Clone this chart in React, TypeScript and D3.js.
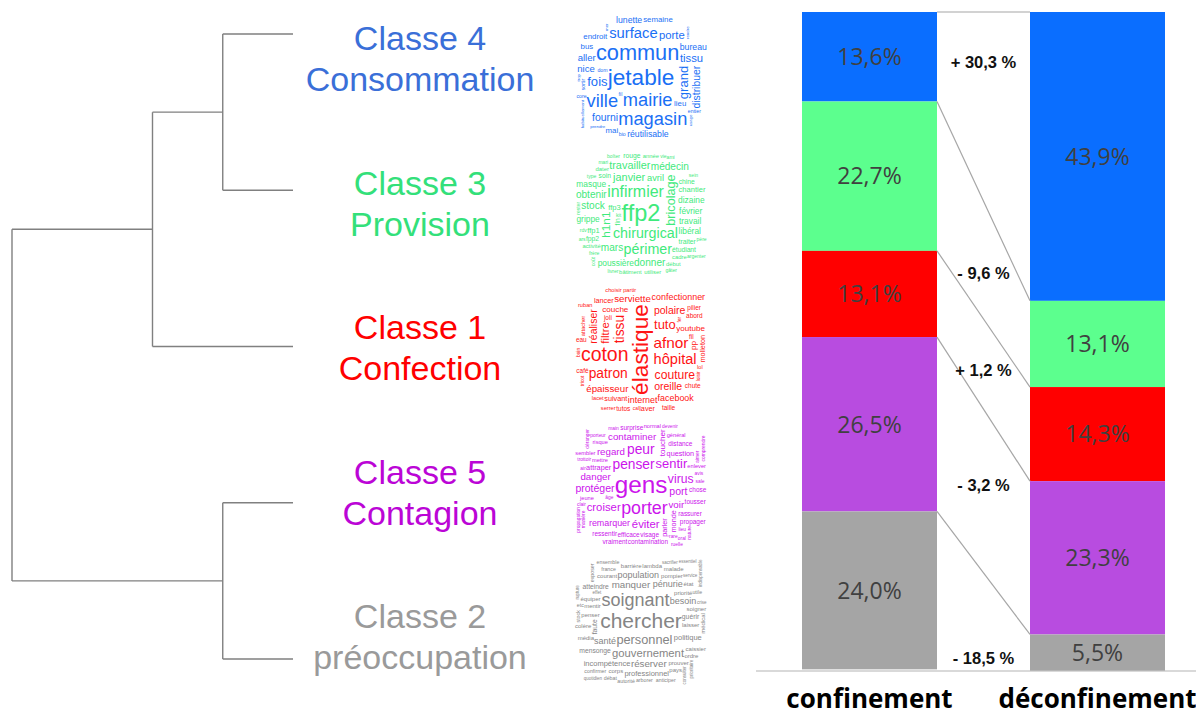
import React, { useMemo } from "react";
import * as d3 from "d3";

const W = 1196;
const H = 715;

// ---- classes (top-to-bottom order) ----
const classIds = ["Classe 4", "Classe 3", "Classe 1", "Classe 5", "Classe 2"];
const classThemes = ["Consommation", "Provision", "Confection", "Contagion", "préoccupation"];
const labelColors = ["#3A6FD8", "#33E07A", "#FF0000", "#BB05D6", "#9A9A9A"];
const barColors = ["#0A6EFF", "#5CFF8E", "#FF0000", "#B84CE0", "#A5A5A5"];
const cloudColors = ["#1A6FF5", "#3FEA7C", "#FF1414", "#CC14EC", "#858585"];

// ---- stacked bars ----
const periods = ["confinement", "déconfinement"];
const confinementShare = [13.6, 22.7, 13.1, 26.5, 24.0];
const deconfinementShare = [43.9, 13.1, 14.3, 23.3, 5.5];
const changeLabels = ["+ 30,3 %", "- 9,6 %", "+ 1,2 %", "- 3,2 %", "- 18,5 %"];
const changeLabelAt = [7.6, 39.7, 54.4, 71.9, 98.2]; // anchor on the 0–100 % axis

// ---- dendrogram (h = merge height) ----
const dendrogram = {
  name: "root", h: 4,
  children: [
    { name: "n3", h: 2, children: [
      { name: "n1", h: 1, children: [{ name: "Classe 4", h: 0 }, { name: "Classe 3", h: 0 }] },
      { name: "Classe 1", h: 0 },
    ] },
    { name: "n2", h: 1, children: [{ name: "Classe 5", h: 0 }, { name: "Classe 2", h: 0 }] },
  ],
};

// ---- word clouds: [word, weight] ----
const wordsC4: [string, number][] = [
  ["jetable", 26], ["commun", 25], ["mairie", 21], ["magasin", 21], ["ville", 21], ["surface", 17],
  ["grand", 15], ["fois", 15], ["porte", 13], ["tissu", 13], ["distribuer", 12], ["fourni", 12],
  ["nice", 11], ["aller", 11], ["réutilisable", 10], ["lunette", 10], ["bureau", 10], ["semaine", 9],
  ["endroit", 9], ["lieu", 9], ["mai", 9], ["bus", 9], ["entier", 6], ["sortir", 6], ["dom", 6],
  ["core", 6], ["bio", 6], ["fil", 6], ["trop", 5], ["habituellement", 5], ["mer", 5], ["rendre", 5],
  ["usage", 5], ["prendre", 5],
];
const verticalC4 = ["grand", "distribuer", "sortir", "trop", "habituellement", "mer", "rendre", "usage"];

const wordsC3: [string, number][] = [
  ["ffp2", 28], ["infirmier", 19], ["chirurgical", 17], ["périmer", 17], ["bricolage", 15], ["h1n1", 14],
  ["janvier", 13], ["travailler", 13], ["mars", 12], ["stock", 12], ["donner", 12], ["médecin", 12],
  ["obtenir", 12], ["avril", 11], ["poussière", 10], ["dizaine", 10], ["février", 10], ["travail", 10],
  ["libéral", 10], ["masque", 10], ["grippe", 10], ["chantier", 9], ["ffp3", 9], ["ffp1", 9], ["fin", 8],
  ["traiter", 8], ["étudiant", 8], ["soin", 8], ["chine", 8], ["fpp2", 8], ["rouge", 8], ["activité", 7],
  ["année", 7], ["cadre", 7], ["utiliser", 7], ["début", 7], ["dater", 7], ["bâtiment", 7], ["frère", 6],
  ["kit", 6], ["rdv", 6], ["type", 6], ["vie", 6], ["ars", 6], ["mari", 6], ["boîter", 6], ["ami", 6],
  ["gâter", 6], ["sein", 6], ["père", 6], ["livrer", 6], ["argenter", 6], ["rester", 6], ["coût", 6],
];
const verticalC3 = ["bricolage", "h1n1", "fin", "rester", "coût"];

const wordsC1: [string, number][] = [
  ["élastique", 28], ["coton", 24], ["afnor", 19], ["hôpital", 18], ["tissu", 17], ["patron", 17],
  ["tuto", 16], ["couture", 15], ["filtre", 14], ["réaliser", 13], ["polaire", 13], ["oreille", 13],
  ["épaisseur", 12], ["serviette", 12], ["internet", 11], ["confectionner", 11], ["facebook", 11],
  ["youtube", 10], ["couche", 10], ["pp", 10], ["suivant", 9], ["molleton", 9], ["laver", 9], ["lancer", 9],
  ["abord", 8], ["joli", 8], ["chute", 8], ["tutos", 8], ["fil", 8], ["eau", 8], ["taille", 8], ["café", 8],
  ["pilier", 8], ["attacher", 7], ["partir", 7], ["lol", 7], ["lacet", 7], ["choisir", 7], ["serrer", 7],
  ["ruban", 7], ["bain", 6], ["loisir", 6], ["fer", 6], ["tricot", 6], ["cal", 6],
];
const verticalC1 = ["élastique", "tissu", "filtre", "réaliser", "molleton", "attacher", "bain", "loisir", "pp", "fer", "tricot"];

const wordsC5: [string, number][] = [
  ["gens", 30], ["porter", 22], ["penser", 17], ["peur", 17], ["sentir", 16], ["virus", 15], ["éviter", 14],
  ["croiser", 14], ["protéger", 13], ["port", 13], ["danger", 12], ["regard", 12], ["voir", 12],
  ["contaminer", 12], ["remarquer", 11], ["toucher", 10], ["monde", 9], ["parler", 9], ["attraper", 9],
  ["question", 9], ["visage", 8], ["efficace", 8], ["rassurer", 8], ["distance", 8], ["contamination", 8],
  ["surprise", 8], ["ressentir", 8], ["propager", 8], ["vraiment", 8], ["tousser", 8], ["chose", 8],
  ["mettre", 7], ["jeune", 7], ["enlever", 7], ["risque", 7], ["normal", 7], ["général", 7], ["sembler", 7],
  ["âge", 6], ["trottoir", 6], ["avis", 6], ["sale", 6], ["rare", 6], ["clair", 6], ["air", 6], ["lieu", 6],
  ["porteur", 6], ["main", 6], ["aimer", 6], ["manière", 6], ["nature", 6], ["comprendre", 6],
  ["propagation", 6], ["déranger", 6], ["devenir", 6], ["oral", 6], ["ruelle", 6],
];
const verticalC5 = ["toucher", "monde", "parler", "aimer", "manière", "nature", "comprendre", "propagation", "déranger"];

const wordsC2: [string, number][] = [
  ["chercher", 28], ["soignant", 24], ["personnel", 17], ["gouvernement", 15], ["manquer", 13],
  ["réserver", 13], ["santé", 12], ["population", 12], ["pénurie", 12], ["besoin", 12], ["politique", 10],
  ["professionnel", 10], ["incompétence", 10], ["mensonge", 9], ["atteindre", 9], ["guérir", 9], ["faute", 9],
  ["penser", 8], ["priorité", 8], ["laisser", 8], ["mentir", 8], ["équiper", 8], ["pompier", 8], ["soigner", 8],
  ["prouver", 8], ["corps", 8], ["média", 8], ["courant", 8], ["barrière", 8], ["lambda", 8], ["caissier", 8],
  ["colère", 8], ["malade", 8], ["état", 8], ["ordre", 8], ["pays", 8], ["médical", 8], ["arborer", 7],
  ["france", 7], ["autorité", 7], ["utile", 7], ["anticiper", 7], ["exposer", 7], ["stock", 7], ["etc", 7],
  ["débat", 7], ["confirmer", 7], ["ensemble", 7], ["effet", 6], ["sacrifier", 6], ["service", 6],
  ["rupture", 6], ["prioritaire", 6], ["indispensable", 6], ["consulter", 6], ["quotidien", 6], ["crise", 6],
  ["essentiel", 6],
];
const verticalC2 = ["exposer", "stock", "faute", "médical", "rupture", "prioritaire", "indispensable", "consulter"];

const cloudWords = [wordsC4, wordsC3, wordsC1, wordsC5, wordsC2];
const cloudVertical = [verticalC4, verticalC3, verticalC1, verticalC5, verticalC2];

const CLOUD_FONT = '"Liberation Sans", Arial, sans-serif';
const CLOUD_W = 132;
const CLOUD_H = 126;

type Placed = { text: string; size: number; vertical: boolean; cx: number; cy: number; tx: number; ty: number };

function layoutOnce(words: [string, number][], vertical: string[], width: number, height: number, sizeOf: (w: number) => number, ctx: CanvasRenderingContext2D): Placed[] {
  const sorted = words.map((w, i) => ({ w, i })).sort((a, b) => b.w[1] - a.w[1] || a.i - b.i);
  const boxes: { x0: number; y0: number; x1: number; y1: number }[] = [];
  const out: Placed[] = [];
  const ratio = width / height;
  for (const { w } of sorted) {
    const [text, weight] = w;
    const size = sizeOf(weight);
    ctx.font = `${size}px ${CLOUD_FONT}`;
    const m = ctx.measureText(text);
    const tw = m.width;
    const asc = size * 0.86;
    const desc = size * 0.22;
    const th = asc + desc;
    const vert = vertical.includes(text);
    const bw = vert ? th : tw;
    const bh = vert ? tw : th;
    for (let i = 0; i < 6000; i++) {
      const t = i * 0.045;
      const r = t * 0.36;
      const cx = width / 2 + ratio * r * Math.cos(t);
      const cy = height / 2 + r * Math.sin(t);
      const x0 = cx - bw / 2, y0 = cy - bh / 2, x1 = cx + bw / 2, y1 = cy + bh / 2;
      if (x0 < 0 || y0 < 0 || x1 > width || y1 > height) continue;
      let hit = false;
      for (const b of boxes) {
        if (x0 < b.x1 && x1 > b.x0 && y0 < b.y1 && y1 > b.y0) { hit = true; break; }
      }
      if (hit) continue;
      boxes.push({ x0, y0, x1, y1 });
      out.push({ text, size, vertical: vert, cx, cy, tx: -tw / 2, ty: -th / 2 + asc });
      break;
    }
  }
  return out;
}

function layoutCloud(words: [string, number][], vertical: string[], width: number, height: number, fontSize: (w: number) => number): Placed[] {
  const canvas = document.createElement("canvas");
  const ctx = canvas.getContext("2d")!;
  let best: Placed[] = [];
  for (let k = 1.05; k >= 0.5; k -= 0.03) {
    const res = layoutOnce(words, vertical, width, height, (w) => fontSize(w) * k, ctx);
    if (res.length > best.length) best = res;
    if (res.length === words.length) return res;
  }
  return best;
}

export default function App() {
  // bars
  const xBand = d3.scaleBand<string>().domain(periods).range([802, 1165]).paddingInner(0.4079).paddingOuter(0);
  const yPct = d3.scaleLinear().domain([0, 100]).range([12, 670]);
  const series = [confinementShare, deconfinementShare];
  const stacks = series.map((vals) => {
    let acc = 0;
    return vals.map((v) => { const s = { y0: acc, y1: acc + v, v }; acc += v; return s; });
  });
  const fmt = (v: number) => v.toFixed(1).replace(".", ",") + "%";

  // dendrogram
  const root = d3.hierarchy<any>(dendrogram);
  const leafY = d3.scalePoint<string>().domain(classIds).range([34, 659]);
  const xH = d3.scaleLinear().domain([0, 4]).range([293, 12]);
  const posY = new Map<any, number>();
  root.eachAfter((n: any) => {
    if (!n.children) posY.set(n, leafY(n.data.name)!);
    else posY.set(n, (posY.get(n.children[0])! + posY.get(n.children[n.children.length - 1])!) / 2);
  });
  const dendroPaths: string[] = [];
  root.each((n: any) => {
    if (!n.children) return;
    const x = xH(n.data.h);
    const ys = n.children.map((c: any) => posY.get(c)!);
    const p = d3.path();
    p.moveTo(x, d3.min(ys)!);
    p.lineTo(x, d3.max(ys)!);
    n.children.forEach((c: any) => { p.moveTo(x, posY.get(c)!); p.lineTo(xH(c.data.h), posY.get(c)!); });
    dendroPaths.push(p.toString());
  });

  // labels & clouds
  const labelY = d3.scalePoint<string>().domain(classIds).range([58, 636]);
  const cloudY = d3.scalePoint<string>().domain(classIds).range([77.5, 621.5]);
  const cloudX = 641;
  const fontSize = d3.scaleLinear().domain([0, 30]).range([0, 30]);
  const clouds = useMemo(
    () => cloudWords.map((ws, i) => layoutCloud(ws, cloudVertical[i], CLOUD_W, CLOUD_H, fontSize)),
    []
  );

  const leftX1 = xBand(periods[0])! + xBand.bandwidth();
  const rightX0 = xBand(periods[1])!;

  return (
    <svg width={W} height={H} style={{ position: "absolute", left: 0, top: 0, background: "#fff" }}>
      {/* dendrogram */}
      <g fill="none" stroke="#808080" strokeWidth={1.4}>
        {dendroPaths.map((d, i) => <path key={i} d={d} />)}
      </g>
      {/* class labels */}
      <g fontFamily='"Liberation Sans", Arial, sans-serif' fontSize={34} textAnchor="middle">
        {classIds.map((c, i) => (
          <text key={c} x={420} fill={labelColors[i]}>
            <tspan x={420} y={labelY(c)! - 8}>{c}</tspan>
            <tspan x={420} y={labelY(c)! + 33}>{classThemes[i]}</tspan>
          </text>
        ))}
      </g>
      {/* word clouds */}
      {clouds.map((placed, ci) => (
        <g key={ci} transform={`translate(${cloudX - CLOUD_W / 2},${cloudY(classIds[ci])! - CLOUD_H / 2})`}
          fill={cloudColors[ci]} fontFamily={CLOUD_FONT}>
          {placed.map((p, k) => (
            <g key={k} transform={`translate(${p.cx},${p.cy}) rotate(${p.vertical ? -90 : 0})`}>
              <text x={p.tx} y={p.ty} fontSize={p.size}>{p.text}</text>
            </g>
          ))}
        </g>
      ))}
      {/* baseline */}
      <line x1={756} x2={1196} y1={yPct(100) + 1} y2={yPct(100) + 1} stroke="#D9D9D9" strokeWidth={2} />
      {/* bars */}
      {periods.map((p, pi) => (
        <g key={p}>
          {stacks[pi].map((s, k) => (
            <rect key={k} x={xBand(p)} width={xBand.bandwidth()} y={yPct(s.y0)} height={yPct(s.y1) - yPct(s.y0)} fill={barColors[k]} />
          ))}
          {stacks[pi].map((s, k) => (
            <text key={"t" + k} x={xBand(p)! + xBand.bandwidth() / 2} y={(yPct(s.y0) + yPct(s.y1)) / 2} dy="0.36em"
              textAnchor="middle" fontFamily='"Open Sans", sans-serif' fontSize={23} fill="#404040">{fmt(s.v)}</text>
          ))}
        </g>
      ))}
      {/* connectors */}
      <g stroke="#A6A6A6" strokeWidth={1.2}>
        {classIds.map((c, k) => (
          <line key={c} x1={leftX1} y1={yPct(stacks[0][k].y0)} x2={rightX0} y2={yPct(stacks[1][k].y0)} />
        ))}
      </g>
      {/* change labels */}
      <g fontFamily='"Liberation Sans", Arial, sans-serif' fontWeight="bold" fontSize={16.5} textAnchor="middle" fill="#111">
        {changeLabels.map((l, k) => (
          <text key={k} x={(leftX1 + rightX0) / 2} y={yPct(changeLabelAt[k])} dy="0.36em">{l}</text>
        ))}
      </g>
      {/* period labels */}
      <g fontFamily='"Open Sans", sans-serif' fontWeight="bold" fontSize={26} textAnchor="middle" fill="#000">
        {periods.map((p) => (
          <text key={p} x={xBand(p)! + xBand.bandwidth() / 2} y={708}>{p}</text>
        ))}
      </g>
    </svg>
  );
}
